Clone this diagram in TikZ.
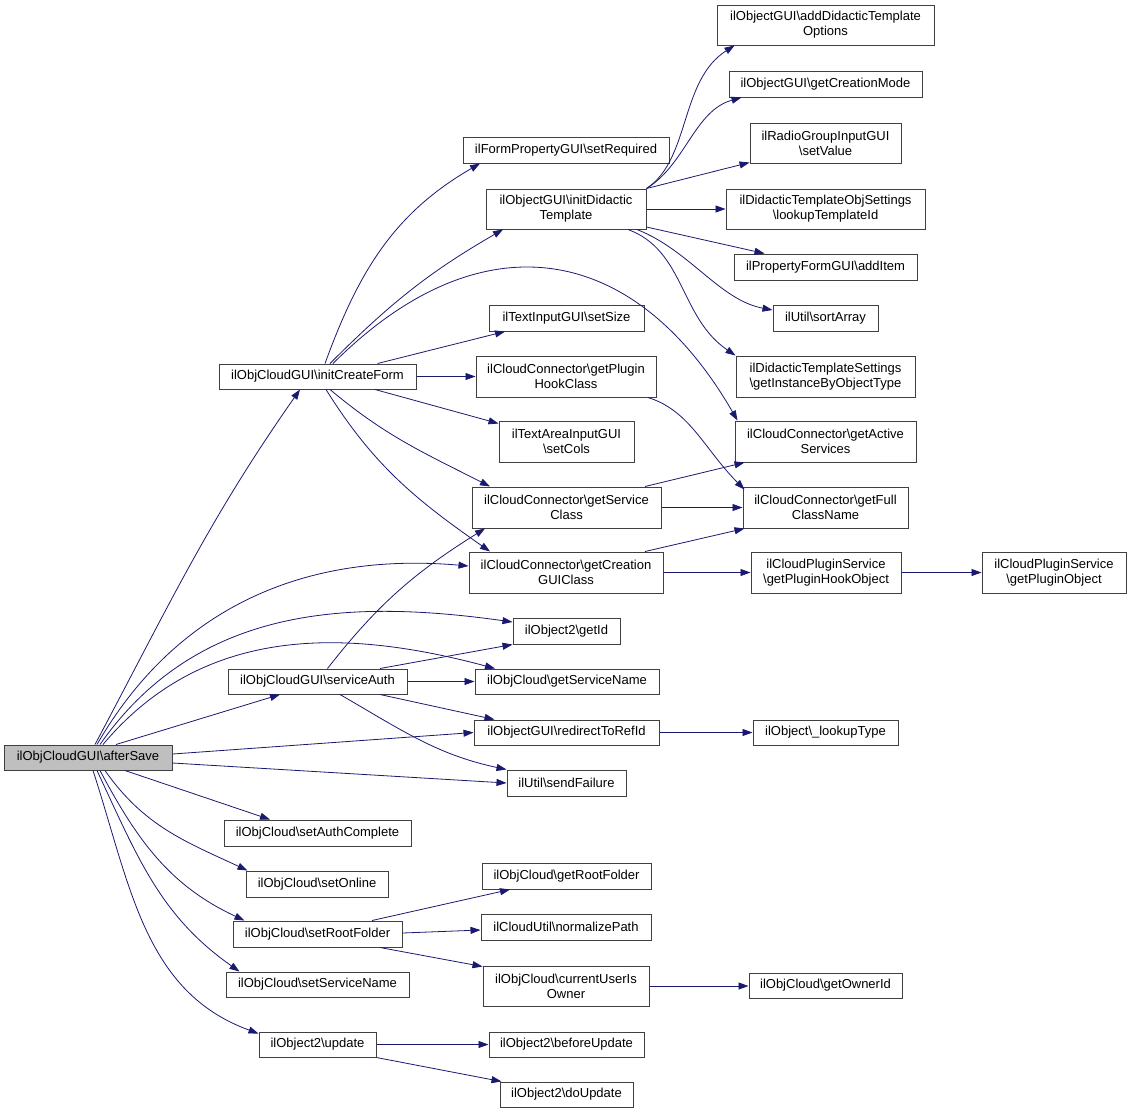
\documentclass[tikz,border=0pt]{standalone}
\usepackage{fontspec}
\setmainfont{Liberation Sans}
\usepackage{tikz}
\usetikzlibrary{arrows.meta,calc}
\definecolor{DoxEdge}{HTML}{191970}
\definecolor{DoxFrame}{HTML}{404040}
\definecolor{DoxRoot}{HTML}{BFBFBF}
\newcommand{\bs}{\textbackslash}

\begin{document}
\begin{tikzpicture}[x=1pt,y=1pt,
    fn/.style={draw=DoxFrame,line width=1pt,fill=white,inner sep=1pt,
               align=center,font=\fontsize{13}{15}\selectfont},
    call/.style={DoxEdge,line width=0.8pt,-{Triangle[length=10pt,width=7pt]}}]
  \useasboundingbox (0,0) rectangle (1131,-1114);
  % root and first column
  \node[fn,fill=DoxRoot,minimum width=168,minimum height=25] (afterSave) at (88,-757.5) {ilObjCloudGUI\bs afterSave};
  \node[fn,minimum width=197,minimum height=25] (initCreateForm) at (317.5,-376.5) {ilObjCloudGUI\bs initCreateForm};
  \node[fn,minimum width=179,minimum height=25] (serviceAuth) at (317.5,-681.5) {ilObjCloudGUI\bs serviceAuth};
  \node[fn,minimum width=187,minimum height=26] (setAuthComplete) at (317.5,-833) {ilObjCloud\bs setAuthComplete};
  \node[fn,minimum width=142,minimum height=26] (setOnline) at (317,-884) {ilObjCloud\bs setOnline};
  \node[fn,minimum width=169,minimum height=26] (setRootFolder) at (317.5,-934) {ilObjCloud\bs setRootFolder};
  \node[fn,minimum width=183,minimum height=25] (setServiceName) at (317.5,-984.5) {ilObjCloud\bs setServiceName};
  \node[fn,minimum width=117,minimum height=25] (update) at (317.5,-1044.5) {ilObject2\bs update};
  % second column
  \node[fn,minimum width=206,minimum height=26] (setRequired) at (566,-150) {ilFormPropertyGUI\bs setRequired};
  \node[fn,minimum width=160,minimum height=40] (initDidactic) at (566,-209) {ilObjectGUI\bs initDidactic\\Template};
  \node[fn,minimum width=155,minimum height=26] (setSize) at (566.5,-318) {ilTextInputGUI\bs setSize};
  \node[fn,minimum width=180,minimum height=41] (getPluginHookClass) at (566,-376.5) {ilCloudConnector\bs getPlugin\\HookClass};
  \node[fn,minimum width=135,minimum height=41] (setCols) at (566.5,-441.5) {ilTextAreaInputGUI\\\bs setCols};
  \node[fn,minimum width=189,minimum height=41] (getServiceClass) at (566.5,-507.5) {ilCloudConnector\bs getService\\Class};
  \node[fn,minimum width=194,minimum height=41] (getCreationGUIClass) at (566,-572.5) {ilCloudConnector\bs getCreation\\GUIClass};
  \node[fn,minimum width=107,minimum height=26] (getId) at (566.5,-631) {ilObject2\bs getId};
  \node[fn,minimum width=184,minimum height=25] (getServiceName) at (567,-681.5) {ilObjCloud\bs getServiceName};
  \node[fn,minimum width=185,minimum height=25] (redirectToRefId) at (566.5,-732.5) {ilObjectGUI\bs redirectToRefId};
  \node[fn,minimum width=119,minimum height=26] (sendFailure) at (566.5,-783) {ilUtil\bs sendFailure};
  \node[fn,minimum width=169,minimum height=26] (getRootFolder) at (566.5,-876) {ilObjCloud\bs getRootFolder};
  \node[fn,minimum width=170,minimum height=26] (normalizePath) at (566,-927) {ilCloudUtil\bs normalizePath};
  \node[fn,minimum width=166,minimum height=40] (currentUserIsOwner) at (566,-986) {ilObjCloud\bs currentUserIs\\Owner};
  \node[fn,minimum width=155,minimum height=25] (beforeUpdate) at (566.5,-1044.5) {ilObject2\bs beforeUpdate};
  \node[fn,minimum width=133,minimum height=25] (doUpdate) at (566.5,-1094.5) {ilObject2\bs doUpdate};
  % third column
  \node[fn,minimum width=217,minimum height=40] (addTemplateOptions) at (825.5,-25) {ilObjectGUI\bs addDidacticTemplate\\Options};
  \node[fn,minimum width=193,minimum height=26] (getCreationMode) at (825.5,-84) {ilObjectGUI\bs getCreationMode};
  \node[fn,minimum width=151,minimum height=40] (setValue) at (825.5,-143) {ilRadioGroupInputGUI\\\bs setValue};
  \node[fn,minimum width=199,minimum height=40] (lookupTemplateId) at (825.5,-209) {ilDidacticTemplateObjSettings\\\bs lookupTemplateId};
  \node[fn,minimum width=183,minimum height=26] (addItem) at (825.5,-267) {ilPropertyFormGUI\bs addItem};
  \node[fn,minimum width=105,minimum height=26] (sortArray) at (825.5,-318) {ilUtil\bs sortArray};
  \node[fn,minimum width=179,minimum height=41] (getInstance) at (825.5,-376.5) {ilDidacticTemplateSettings\\\bs getInstanceByObjectType};
  \node[fn,minimum width=181,minimum height=41] (getActiveServices) at (825.5,-441.5) {ilCloudConnector\bs getActive\\Services};
  \node[fn,minimum width=165,minimum height=41] (getFullClassName) at (825.5,-507.5) {ilCloudConnector\bs getFull\\ClassName};
  \node[fn,minimum width=150,minimum height=41] (getPluginHookObject) at (826,-572.5) {ilCloudPluginService\\\bs getPluginHookObject};
  \node[fn,minimum width=145,minimum height=25] (lookupType) at (825.5,-732.5) {ilObject\bs \_lookupType};
  \node[fn,minimum width=153,minimum height=25] (getOwnerId) at (825.5,-985.5) {ilObjCloud\bs getOwnerId};
  \node[fn,minimum width=144,minimum height=41] (getPluginObject) at (1054,-572.5) {ilCloudPluginService\\\bs getPluginObject};

  % calls from afterSave
  \draw[call] ([xshift=7pt]afterSave.north) to[out=62,in=-125] ([xshift=-17.5pt]initCreateForm.south);
  \draw[call] ([xshift=9pt]afterSave.north) to[out=60,in=175] ([yshift=6.5pt]getCreationGUIClass.west);
  \draw[call] ([xshift=12pt]afterSave.north) to[out=55,in=172] ([yshift=9pt]getId.west);
  \draw[call] ([xshift=15pt]afterSave.north) to[out=50,in=165] ([xshift=-72pt]getServiceName.north);
  \draw[call] ([xshift=28pt]afterSave.north) -- ([xshift=-37.5pt]serviceAuth.south);
  \draw[call] ([yshift=3.5pt]afterSave.east) -- (redirectToRefId.west);
  \draw[call] ([yshift=-5.5pt]afterSave.east) -- (sendFailure.west);
  \draw[call] ([xshift=37pt]afterSave.south) -- ([xshift=-47.5pt]setAuthComplete.north);
  \draw[call] ([xshift=17pt]afterSave.south) to[out=-55,in=155] ([xshift=2pt]setOnline.north west);
  \draw[call] ([xshift=12pt]afterSave.south) to[out=-62,in=155] ([xshift=12pt]setRootFolder.north west);
  \draw[call] ([xshift=9pt]afterSave.south) to[out=-65,in=145] ([xshift=14pt]setServiceName.north west);
  \draw[call] ([xshift=5pt]afterSave.south) to[out=-72,in=160] ([yshift=-2pt]update.north west);

  % calls from initCreateForm
  \draw[call] ([xshift=7.5pt]initCreateForm.north) to[out=70,in=-150] ([xshift=-86pt]setRequired.south);
  \draw[call] ([xshift=12.5pt]initCreateForm.north) to[out=45,in=-150] ([xshift=-63pt]initDidactic.south);
  \draw[call] ([xshift=15.5pt]initCreateForm.north) to[out=45,in=120,looseness=1.3] ([xshift=3pt]getActiveServices.north west);
  \draw[call] ([xshift=60pt]initCreateForm.north) -- ([xshift=-61.5pt]setSize.south);
  \draw[call] (initCreateForm.east) -- (getPluginHookClass.west);
  \draw[call] ([xshift=57.5pt]initCreateForm.south) -- ([yshift=-3pt]setCols.north west);
  \draw[call] ([xshift=12.5pt]initCreateForm.south) to[out=-40,in=153] ([xshift=-76.5pt]getServiceClass.north);
  \draw[call] ([xshift=8.5pt]initCreateForm.south) to[out=-58,in=145] ([xshift=-76pt]getCreationGUIClass.north);

  % calls from initDidacticTemplate
  \draw[call] (initDidactic.north east) .. controls +(44,29) and +(-55,-35) .. ([xshift=18pt]addTemplateOptions.south west);
  \draw[call] (initDidactic.north east) .. controls +(39,24) and +(-47,-13) .. ([xshift=13pt]getCreationMode.south west);
  \draw[call] (initDidactic.north east) -- ([yshift=1pt]setValue.south west);
  \draw[call] (initDidactic.east) -- (lookupTemplateId.west);
  \draw[call] ([yshift=-18pt]initDidactic.east) -- ([xshift=31pt]addItem.north west);
  \draw[call] ([xshift=71pt]initDidactic.south) .. controls +(53,-21) and +(-53,10) .. ([yshift=8pt]sortArray.west);
  \draw[call] ([xshift=62pt]initDidactic.south) .. controls +(57,-21) and +(-56,38) .. (getInstance.north west);

  % calls from the cloud connector
  \draw[call] ([xshift=82pt]getPluginHookClass.south) .. controls +(42,-13) and +(-40,40) .. ([xshift=2pt,yshift=-3pt]getFullClassName.north west);
  \draw[call] ([xshift=78.5pt]getServiceClass.north) -- ([xshift=10pt]getActiveServices.south west);
  \draw[call] (getServiceClass.east) -- (getFullClassName.west);
  \draw[call] ([xshift=79pt]getCreationGUIClass.north) -- ([xshift=2pt]getFullClassName.south west);
  \draw[call] (getCreationGUIClass.east) -- (getPluginHookObject.west);
  \draw[call] (getPluginHookObject.east) -- (getPluginObject.west);

  % calls from serviceAuth
  \draw[call] ([xshift=10pt]serviceAuth.north) to[out=52,in=-148] ([xshift=-81.5pt]getServiceClass.south);
  \draw[call] ([xshift=62.5pt]serviceAuth.north) -- (getId.south west);
  \draw[call] (serviceAuth.east) -- (getServiceName.west);
  \draw[call] ([xshift=62.5pt]serviceAuth.south) -- ([xshift=21pt]redirectToRefId.north west);
  \draw[call] ([xshift=22.5pt]serviceAuth.south) to[out=-30,in=168] (sendFailure.north west);
  \draw[call] (redirectToRefId.east) -- (lookupType.west);

  % calls from setRootFolder and update
  \draw[call] ([xshift=54.5pt]setRootFolder.north) -- ([xshift=-56.5pt]getRootFolder.south);
  \draw[call] ([yshift=1pt]setRootFolder.east) -- ([yshift=-3pt]normalizePath.west);
  \draw[call] ([xshift=62.5pt]setRootFolder.south) -- ([yshift=-1pt]currentUserIsOwner.north west);
  \draw[call] (currentUserIsOwner.east) -- ([yshift=-0.5pt]getOwnerId.west);
  \draw[call] (update.east) -- (beforeUpdate.west);
  \draw[call] (update.south east) -- ([xshift=2pt]doUpdate.north west);
\end{tikzpicture}
\end{document}
